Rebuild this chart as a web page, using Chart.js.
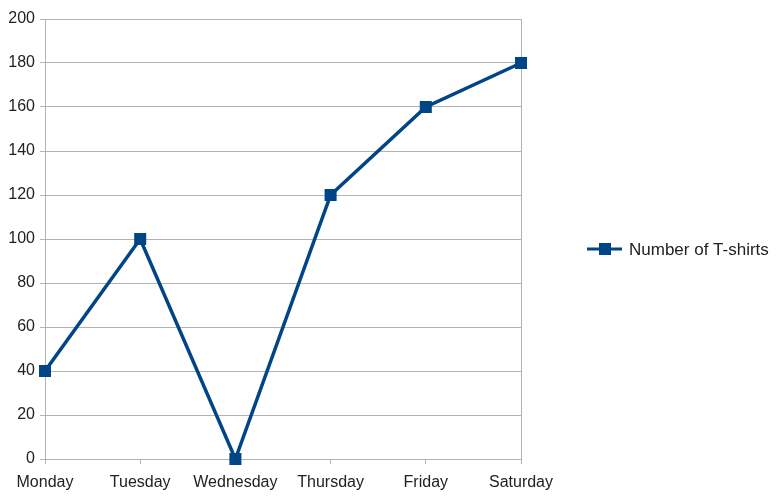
<!DOCTYPE html>
<html>
<head>
<meta charset="utf-8">
<style>
  html, body { margin: 0; padding: 0; background: #fff; }
  #wrap { width: 784px; height: 500px; }
</style>
<script src="https://cdn.jsdelivr.net/npm/chart.js@4/dist/chart.umd.min.js"></script>
</head>
<body>
<div id="wrap"><canvas id="tshirtChart" width="784" height="500"></canvas></div>
<script>
// chart data
const days = ['Monday', 'Tuesday', 'Wednesday', 'Thursday', 'Friday', 'Saturday'];
const tshirts = [40, 100, 0, 120, 160, 180];
const seriesName = 'Number of T-shirts';
const yTicks = [0, 20, 40, 60, 80, 100, 120, 140, 160, 180, 200];

const lineColor = '#004586';
const gridColor = '#b3b3b3';
const textColor = '#222222';
const fontFamily = '"Liberation Sans", Arial, sans-serif';

// draws the legend on the right side, like the original
const sideLegend = {
    id: 'sideLegend',
    afterDraw(chart) {
        const ctx = chart.ctx;
        const area = chart.chartArea;
        const y = (area.top + area.bottom) / 2 + 10;
        const x0 = area.right + 66;
        ctx.save();
        ctx.strokeStyle = lineColor;
        ctx.lineWidth = 3;
        ctx.beginPath();
        ctx.moveTo(x0, y);
        ctx.lineTo(x0 + 35, y);
        ctx.stroke();
        ctx.fillStyle = lineColor;
        ctx.fillRect(x0 + 12, y - 6, 12, 12);
        ctx.fillStyle = textColor;
        ctx.font = '17px ' + fontFamily;
        ctx.textBaseline = 'middle';
        ctx.fillText(chart.data.datasets[0].label, x0 + 42, y + 1);
        ctx.restore();
    }
};

document.addEventListener('DOMContentLoaded', () => {
    const ctx = document.getElementById('tshirtChart').getContext('2d');
    const lastIdx = days.length - 1;

    new Chart(ctx, {
        type: 'line',
        data: {
            labels: days,
            datasets: [{
                label: seriesName,
                data: tshirts,
                borderColor: lineColor,
                backgroundColor: lineColor,
                borderWidth: 3.5,
                pointStyle: 'rect',
                pointRadius: 8.5,
                pointHoverRadius: 8.5,
                pointBorderWidth: 0,
                pointBackgroundColor: lineColor,
                tension: 0,
                clip: false
            }]
        },
        options: {
            responsive: false,
            animation: false,
            layout: { padding: { top: 19, right: 263, left: 0, bottom: 0 } },
            plugins: {
                legend: { display: false },
                tooltip: { enabled: false }
            },
            scales: {
                x: {
                    offset: false,
                    afterFit(scale) { scale.height = 41; },
                    grid: {
                        drawOnChartArea: true,
                        color: (c) => (c.index === lastIdx ? gridColor : 'transparent'),
                        tickColor: gridColor,
                        tickLength: 5,
                        lineWidth: 1
                    },
                    border: { color: gridColor },
                    ticks: {
                        color: textColor,
                        font: { family: fontFamily, size: 16 },
                        padding: 9,
                        maxRotation: 0,
                        autoSkip: false
                    }
                },
                y: {
                    min: 0,
                    max: 200,
                    afterFit(scale) { scale.width = 45; },
                    afterBuildTicks(scale) { scale.ticks = yTicks.map(v => ({ value: v })); },
                    grid: {
                        color: gridColor,
                        tickColor: gridColor,
                        tickLength: 5,
                        lineWidth: 1
                    },
                    border: { color: gridColor },
                    ticks: {
                        color: textColor,
                        font: { family: fontFamily, size: 16 },
                        padding: 5
                    }
                }
            }
        },
        plugins: [sideLegend]
    });
});
</script>
</body>
</html>
